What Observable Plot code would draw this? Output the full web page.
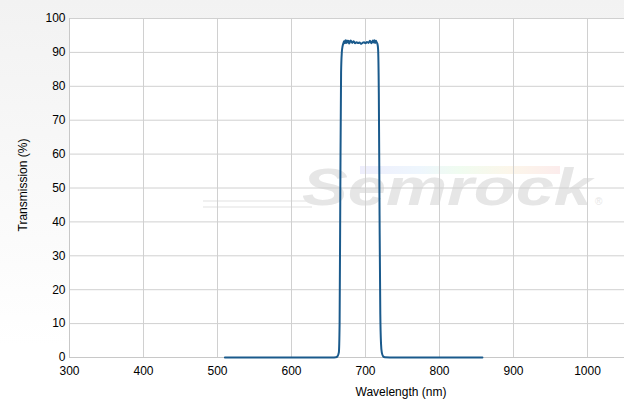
<!DOCTYPE html>
<html>
<head>
<meta charset="utf-8">
<script src="https://cdn.jsdelivr.net/npm/d3@7"></script>
<script src="https://cdn.jsdelivr.net/npm/@observablehq/plot@0.6"></script>
<style>
  html, body { margin: 0; padding: 0; }
  body { width: 624px; height: 406px; background: linear-gradient(#f2f2f2, #ffffff 85%); font-family: "Liberation Sans", Arial, sans-serif; overflow: hidden; }
  #chart { position: relative; width: 624px; height: 406px; }
</style>
</head>
<body>
<div id="chart"></div>
<script>
// Wavelength (nm) and transmission (%)
const wavelength = [510, 560, 600, 640, 655, 660, 662, 664, 665, 666, 667, 668, 669, 670, 671, 672, 673, 674, 675, 676, 677, 678, 680, 682, 684, 686, 688, 690, 692, 694, 696, 698, 700, 702, 704, 706, 708, 710, 711, 712, 713, 714, 715, 716, 717, 718, 719, 720, 721, 722, 724, 726, 740, 780, 820, 858];
const transmission = [0, 0, 0, 0, 0, 0.05, 0.3, 1.5, 10, 50, 84, 90, 91.8, 92.6, 93.3, 92.7, 93.6, 92.8, 93.5, 92.9, 93.4, 92.6, 93.5, 92.8, 93.3, 92.7, 93.0, 92.8, 92.9, 92.5, 92.8, 93.0, 92.7, 93.1, 92.8, 93.4, 92.7, 93.5, 92.9, 93.6, 92.8, 93.4, 93.0, 92.6, 91.0, 78, 42, 13, 4, 1.5, 0.3, 0.05, 0, 0, 0, 0];
const xTicks = [300, 400, 500, 600, 700, 800, 900, 1000];
const yTicks = [0, 10, 20, 30, 40, 50, 60, 70, 80, 90, 100];

const data = wavelength.map((w, i) => ({w, t: transmission[i]}));

const plot = Plot.plot({
  width: 624,
  height: 406,
  marginLeft: 69,
  marginRight: 0,
  marginTop: 18,
  marginBottom: 49,
  style: {background: "transparent", fontFamily: "'Liberation Sans', Arial, sans-serif", fontSize: "12px", color: "#000"},
  x: {domain: [300, 1050], ticks: xTicks, label: null},
  y: {domain: [0, 100], ticks: yTicks, label: null},
  marks: [
    Plot.frame({fill: "#fff", stroke: null}),
    Plot.gridX(xTicks, {stroke: "#d0d0d0", strokeOpacity: 1}),
    Plot.gridY(yTicks, {stroke: "#d0d0d0", strokeOpacity: 1}),
    Plot.ruleX([300], {stroke: "#c8c8c8"}),
    Plot.ruleY([0], {stroke: "#c8c8c8"}),
    Plot.axisX({ticks: xTicks, tickSize: 0, tickPadding: 9, label: null, fill: "#000", tickFormat: d => String(d)}),
    Plot.axisY({ticks: yTicks, tickSize: 0, tickPadding: 4, label: null, fill: "#000", tickFormat: d => String(d)}),
    Plot.line(data, {x: "w", y: "t", stroke: "#1a5a8c", strokeWidth: 2, curve: "monotone-x"})
  ]
});

document.getElementById("chart").appendChild(plot);

// Watermark (behind grid) and axis titles
const svg = d3.select(plot);
const frameEl = plot.querySelector("rect");
const wm = d3.create("svg:g").attr("pointer-events", "none").attr("text-anchor", "start");
frameEl.parentNode.insertBefore(wm.node(), frameEl.nextSibling);
const defs = svg.append("defs");
const grad = defs.append("linearGradient").attr("id", "rainbow");
[["0%", "#eeeefc"], ["30%", "#eef6fd"], ["50%", "#f0fcf0"], ["75%", "#fcf6ea"], ["100%", "#fcecec"]]
  .forEach(([o, c]) => grad.append("stop").attr("offset", o).attr("stop-color", c));
const wx = 302, wy = 205;
wm.append("rect").attr("x", 360).attr("y", 166).attr("width", 200).attr("height", 8).attr("fill", "url(#rainbow)");
wm.append("line").attr("x1", 203).attr("x2", 318).attr("y1", 201).attr("y2", 201).attr("stroke", "#ebebeb").attr("stroke-width", 1.5);
wm.append("line").attr("x1", 203).attr("x2", 312).attr("y1", 207).attr("y2", 207).attr("stroke", "#ebebeb").attr("stroke-width", 1.5);
wm.append("text").attr("x", wx).attr("y", wy).attr("fill", "#e6e6e6")
  .attr("font-family", "'Liberation Sans', Arial, sans-serif").attr("font-style", "italic").attr("font-weight", "bold")
  .attr("font-size", 52).attr("textLength", 290).attr("lengthAdjust", "spacingAndGlyphs").text("Semrock");
wm.append("text").attr("x", 595).attr("y", 205).attr("fill", "#e6e6e6").attr("font-size", 10)
  .attr("font-family", "'Liberation Sans', Arial, sans-serif").text("®");

svg.append("text").attr("x", 401).attr("y", 396).attr("text-anchor", "middle")
  .attr("font-size", 12).attr("fill", "#000").text("Wavelength (nm)");
svg.append("text").attr("transform", `translate(27,185) rotate(-90)`).attr("text-anchor", "middle")
  .attr("font-size", 12).attr("fill", "#000").text("Transmission (%)");
</script>
</body>
</html>
